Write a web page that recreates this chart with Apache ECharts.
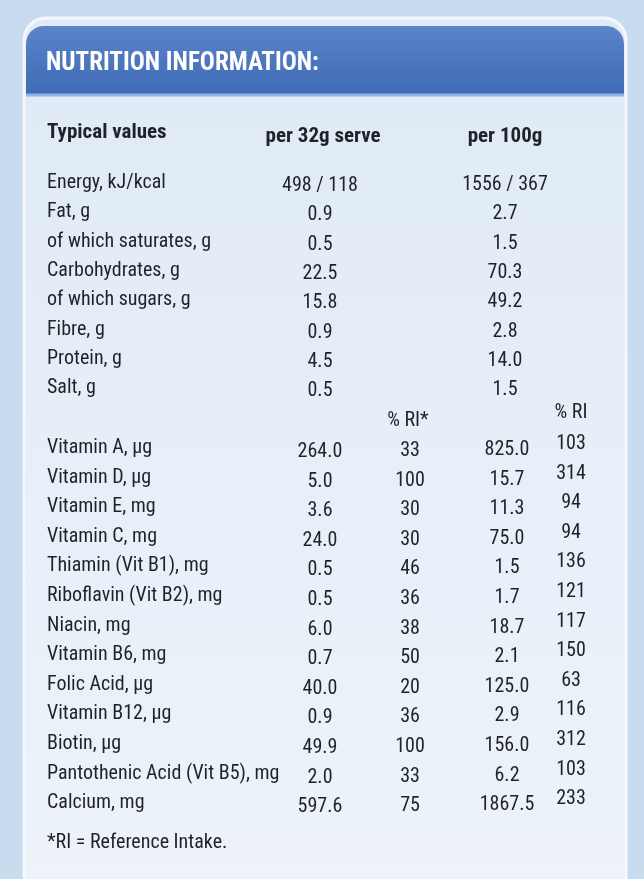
<!DOCTYPE html>
<html><head><meta charset="utf-8">
<script src="https://cdn.jsdelivr.net/npm/echarts@6/dist/echarts.min.js"></script>
<style>html,body{margin:0;padding:0;background:#c9dcef}#c{width:644px;height:879px}</style>
</head><body><div id="c"></div>
<script>
const title = "NUTRITION INFORMATION:";
const headers = ["Typical values", "per 32g serve", "per 100g"];
const macroNames = ["Energy, kJ/kcal","Fat, g","of which saturates, g","Carbohydrates, g","of which sugars, g","Fibre, g","Protein, g","Salt, g"];
const macroPerServe = ["498 / 118","0.9","0.5","22.5","15.8","0.9","4.5","0.5"];
const macroPer100 = ["1556 / 367","2.7","1.5","70.3","49.2","2.8","14.0","1.5"];
const vitNames = ["Vitamin A, µg","Vitamin D, µg","Vitamin E, mg","Vitamin C, mg","Thiamin (Vit B1), mg","Riboflavin (Vit B2), mg","Niacin, mg","Vitamin B6, mg","Folic Acid, µg","Vitamin B12, µg","Biotin, µg","Pantothenic Acid (Vit B5), mg","Calcium, mg"];
const vitPerServe = ["264.0","5.0","3.6","24.0","0.5","0.5","6.0","0.7","40.0","0.9","49.9","2.0","597.6"];
const vitRIServe = ["33","100","30","30","46","36","38","50","20","36","100","33","75"];
const vitPer100 = ["825.0","15.7","11.3","75.0","1.5","1.7","18.7","2.1","125.0","2.9","156.0","6.2","1867.5"];
const vitRI100 = ["103","314","94","94","136","121","117","150","63","116","312","103","233"];
const riHeader = "% RI*";
const riHeader2 = "% RI";
const footnote = "*RI = Reference Intake.";

const F = "'Liberation Sans Narrow','Roboto Condensed','Liberation Sans',sans-serif";
const col = '#1f2328';
function t(x,y,s,align,opt){return Object.assign({type:'text',style:{x:x,y:y,text:s,fill:col,font:'20px '+F,textAlign:align||'left',textVerticalAlign:'middle'}},opt||{});}
const els = [];
els.push({type:'rect',shape:{x:24,y:18,width:602,height:880,r:22},style:{fill:{type:'linear',x:0,y:0,x2:0,y2:1,colorStops:[{offset:0,color:'#dfeaf6'},{offset:1,color:'#eef3fa'}]},stroke:'#f4f8fd',lineWidth:3}});
els.push({type:'rect',shape:{x:26,y:26,width:598,height:68,r:[18,18,0,0]},style:{fill:{type:'linear',x:0,y:0,x2:0,y2:1,colorStops:[{offset:0,color:'#5a84c8'},{offset:1,color:'#3f6bb6'}]}}});
els.push({type:'text',style:{x:46,y:64,text:title,fill:'#ffffff',font:'bold 25px '+F,textVerticalAlign:'middle'}});
els.push({type:'line',shape:{x1:26,y1:95,x2:624,y2:95},style:{stroke:'#8fb2e0',lineWidth:3}});
els.push(t(47,133,headers[0],'left'));els.push(t(323,137,headers[1],'center'));els.push(t(505,137,headers[2],'center'));
for(let i=els.length-3;i<els.length;i++) els[i].style.font='bold 21px '+F;
macroNames.forEach((n,i)=>{const y=183+i*29.3;els.push(t(47,y,n));els.push(t(320,y+3,macroPerServe[i],'center'));els.push(t(505,y+2,macroPer100[i],'center'));});
els.push(t(408,421,riHeader,'center'));els.push(t(571,413,riHeader2,'center'));
vitNames.forEach((n,i)=>{const y=448+i*29.6;els.push(t(47,y,n));els.push(t(320,y+4,vitPerServe[i],'center'));els.push(t(410,y+3,vitRIServe[i],'center'));els.push(t(507,y+2,vitPer100[i],'center'));els.push(t(571,y-4,vitRI100[i],'center'));});
els.push(t(47,843,footnote));
const ch = echarts.init(document.getElementById('c'));
ch.setOption({backgroundColor:'#c9dcef',graphic:{elements:els}});
</script></body></html>
